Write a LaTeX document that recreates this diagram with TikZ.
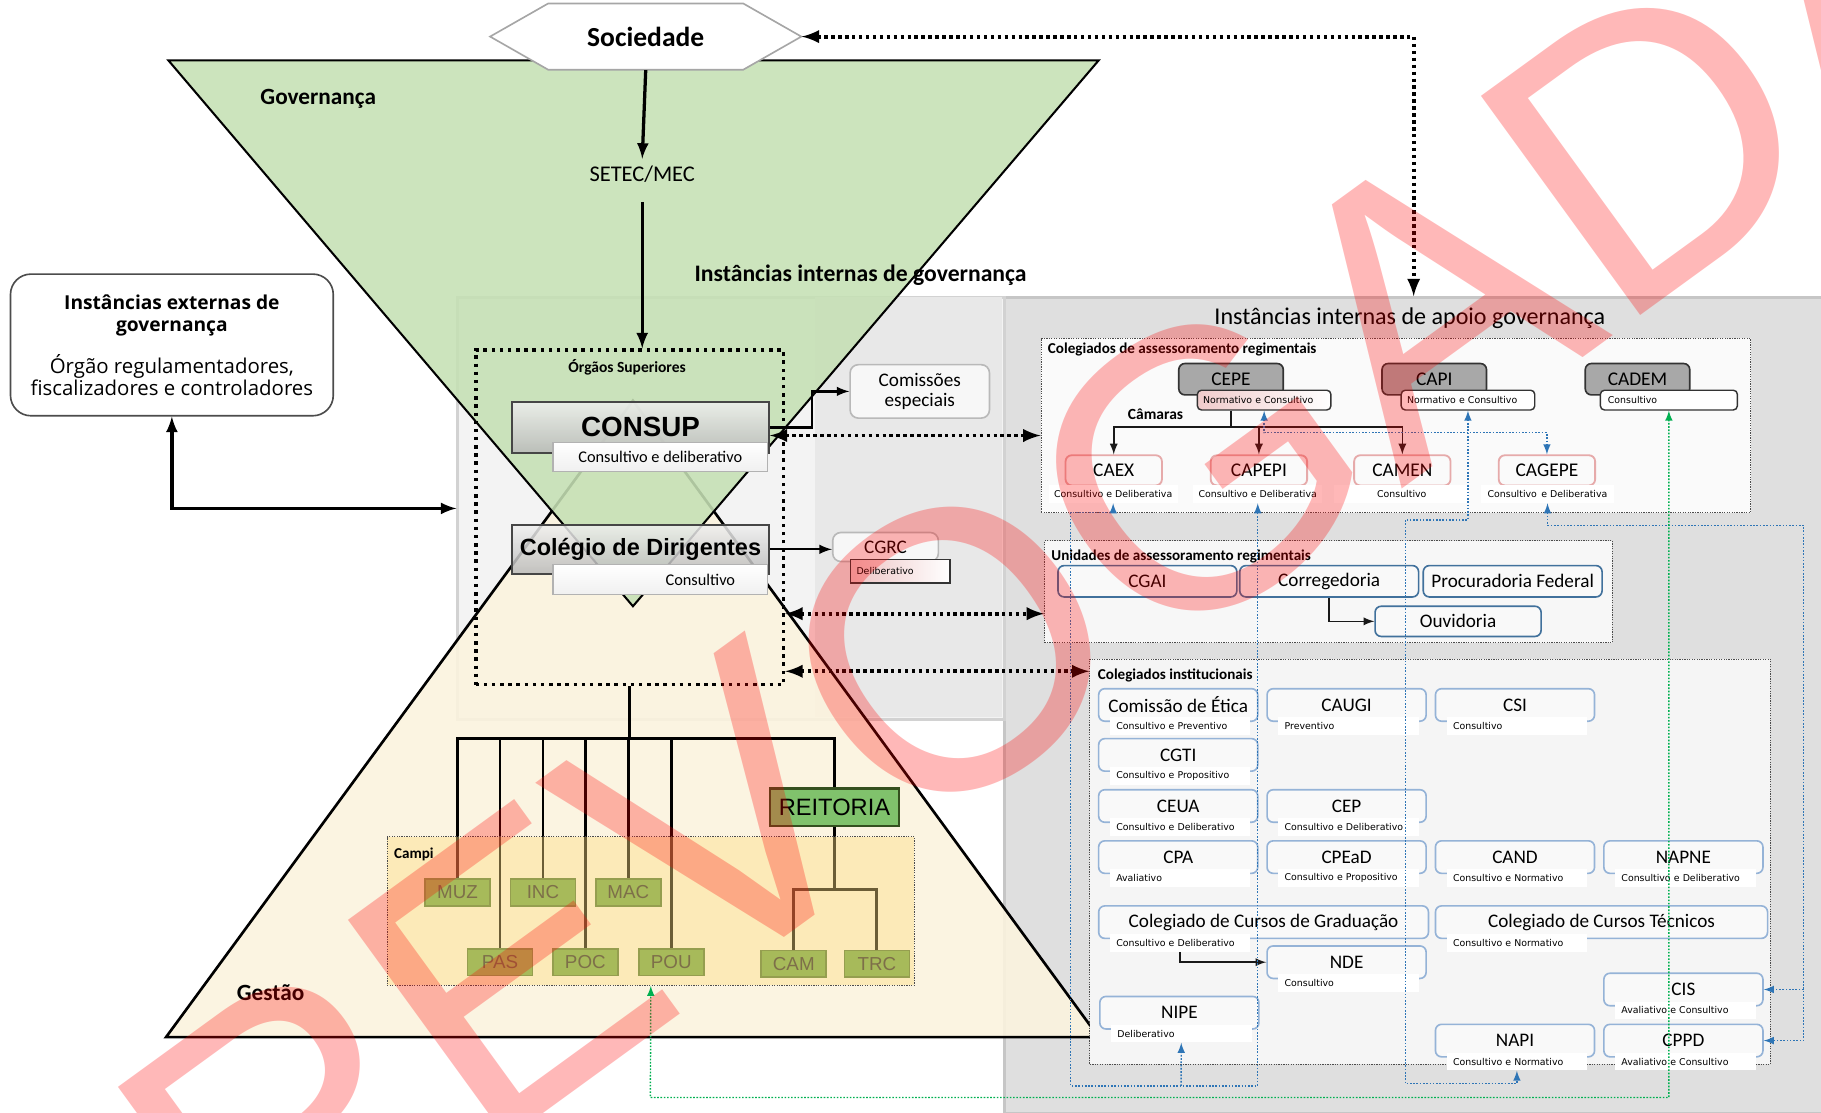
\documentclass[tikz,border=0pt]{standalone}
\usepackage{fontspec}
\setmainfont{Carlito}
\newfontfamily\arialf{Liberation Sans}
\newfontfamily\opensf{Open Sans}
\newfontfamily\tinyf{DejaVu Sans}
\usepackage{tikz}
\usetikzlibrary{arrows,positioning,shapes.geometric}
\newcommand{\fsz}[2]{\fontsize{#1}{#2}\selectfont}
\definecolor{govgreen}{RGB}{197,224,180}
\definecolor{gestbeige}{RGB}{251,243,222}
\definecolor{panlight}{RGB}{243,243,243}
\definecolor{panmid}{RGB}{232,232,232}
\definecolor{panright}{RGB}{223,223,223}
\definecolor{azul}{RGB}{46,117,182}
\definecolor{verde}{RGB}{0,176,80}
\definecolor{campiy}{RGB}{255,222,130}
\definecolor{campg}{RGB}{104,160,62}
\definecolor{reitg}{RGB}{128,194,108}
\definecolor{colborder}{RGB}{149,179,215}
\definecolor{unborder}{RGB}{65,113,156}
\definecolor{rosa}{RGB}{230,170,170}
\tikzstyle{thk}=[line width=1.6pt,>=latex]
\tikzstyle{dots}=[line width=1.9pt,dash pattern=on 1.7pt off 1.7pt,<->,>=latex]
\tikzstyle{bd}=[azul,line width=0.7pt,dash pattern=on 0.8pt off 0.8pt,<->,>=latex]
\tikzstyle{vd}=[verde,line width=0.7pt,dash pattern=on 0.8pt off 0.8pt,<->,>=latex]
\tikzstyle{gline}=[gray!20!black,line width=0.8pt,->,>=latex]
\tikzstyle{tree}=[line width=1.4pt]
\tikzstyle{dbox}=[draw=gray!60!black,line width=0.5pt,dash pattern=on 0.6pt off 0.6pt,inner sep=0,anchor=north west]
\tikzstyle{lbl}=[font=\bfseries\fsz{7.4pt}{9pt},anchor=west,inner sep=0]
\tikzstyle{bevbox}=[draw=gray!55!black,line width=1pt,top color=gray!12,bottom color=gray!55,fill opacity=0.85,text opacity=1,inner sep=0]
\tikzstyle{bevsub}=[draw=gray!60,line width=0.8pt,top color=white,bottom color=gray!12,font=\fsz{8pt}{9pt},inner sep=1pt]
\tikzstyle{grbox}=[rounded corners=4pt,draw=gray!55,fill=gray!6,line width=0.8pt,inner sep=0]
\tikzstyle{dkbox}=[rounded corners=3pt,draw=gray!40!black,line width=0.8pt,fill=gray!68,minimum width=1.8cm,minimum height=0.54cm,font=\fsz{9.5pt}{10pt},inner sep=0]
\tikzstyle{dksub}=[rounded corners=2pt,draw=gray!40!black,line width=0.7pt,fill=white,minimum width=2.3cm,minimum height=0.34cm,text width=2.1cm,align=left,font=\tinyf\fsz{4.6pt}{5pt},inner sep=1pt]
\tikzstyle{pkbox}=[rounded corners=3pt,draw=rosa,line width=0.9pt,fill=gray!4,minimum width=1.66cm,minimum height=0.52cm,font=\fsz{9.5pt}{10pt},inner sep=0]
\tikzstyle{wsub}=[fill=white,minimum width=2.22cm,minimum height=0.3cm,font=\tinyf\fsz{4.6pt}{5pt},inner sep=0]
\tikzstyle{ubox}=[rounded corners=3pt,draw=unborder,line width=0.8pt,fill=gray!5,minimum width=3.08cm,minimum height=0.54cm,font=\fsz{9.4pt}{10pt},inner sep=0]
\tikzstyle{cbox}=[rounded corners=3pt,draw=colborder,line width=0.8pt,fill=gray!5,minimum width=2.74cm,minimum height=0.56cm,font=\fsz{9.4pt}{10pt},inner sep=0]
\tikzstyle{csub}=[fill=white,minimum width=2.42cm,minimum height=0.3cm,text width=2.2cm,align=left,font=\tinyf\fsz{4.6pt}{5pt},inner sep=0,anchor=north west]
\tikzstyle{cpbox}=[fill=campg,draw=campg!70!black,line width=0.8pt,minimum width=1.12cm,minimum height=0.46cm,font=\arialf\fsz{9.2pt}{10pt},text=gray!25!black,inner sep=0]
\newcommand{\colbox}[5][]{\node[cbox,#1] (#2) at (#3) {#4};
\node[csub] (#2s) at ([xshift=0.2cm,yshift=0.09cm]#2.south west) {#5};}

\begin{document}
\begin{tikzpicture}[x=0.02cm,y=-0.02cm]
\useasboundingbox (0,0) rectangle (1568,958);
% paineis
\node[fill=panright,draw=gray!45,line width=1.5pt,inner sep=0,anchor=north west,minimum width=14.08cm,minimum height=14.06cm] (APO) at (864,255) {};
\node[fill=panlight,draw=gray!35,line width=1.5pt,inner sep=0,anchor=north west,minimum width=9.42cm,minimum height=7.26cm] (INT) at (393,255) {};
\fill[panmid] (702,256) rectangle (863,617);
% ampulheta
\fill[gestbeige,fill opacity=0.9] (545,345) -- (946,893) -- (143,893) -- cycle;
\draw[line width=1.3pt] (545,345) -- (946,893) -- (143,893) -- cycle;
\fill[govgreen,fill opacity=0.88] (145,52) -- (946,52) -- (545,522) -- cycle;
\draw[line width=1pt] (145,52) -- (946,52) -- (545,522) -- cycle;
\filldraw[fill=white,draw=gray!70,line width=0.8pt] (422,31.5) -- (472,3) -- (640,3) -- (690,31.5) -- (640,60) -- (472,60) -- cycle;
\node[minimum width=5.36cm,minimum height=1.14cm,inner sep=0,font=\bfseries\fsz{13.5pt}{15pt}] (SOC) at (556,31.5) {Sociedade};
\node[font=\bfseries\fsz{11.4pt}{12pt}] (GOV) at (274,85) {Governança};
\node[font=\bfseries\fsz{11.4pt}{12pt}] (GES) at (233,855) {Gestão};
\node[font=\fsz{11pt}{13pt}] (SET) at (553,150) {SETEC/MEC};
\node[font=\bfseries\fsz{11.6pt}{12pt}] (IIG) at (741,237) {Instâncias internas de governança};

\node[draw=gray!60!black,line width=0.8pt,rounded corners=10pt,fill=white,minimum width=5.56cm,minimum height=2.44cm,align=center,font=\opensf\fsz{9.4pt}{10.8pt}] (EXT) at (148,297) {\textbf{Instâncias externas de}\\\textbf{governança}\\[8pt]{\fsz{10pt}{11pt}Órgão regulamentadores,}\\{\fsz{10pt}{11pt}fiscalizadores e controladores}};

% orgaos superiores
\node[draw,line width=1.8pt,dash pattern=on 1.7pt off 2.3pt,inner sep=0,anchor=north west,minimum width=5.3cm,minimum height=5.76cm] (ORG) at (408,300) {};
\node[font=\bfseries\fsz{7.6pt}{9pt}] (ORGt) at (540,316) {Órgãos Superiores};
\node[bevbox,minimum width=4.42cm,minimum height=0.88cm,font=\arialf\bfseries\fsz{13.6pt}{15pt}] (CON) at (551.5,368) {CONSUP};
\node[bevsub,minimum width=3.7cm,minimum height=0.5cm] (CONs) at (568.5,393.5) {Consultivo e deliberativo};
\node[bevbox,minimum width=4.42cm,minimum height=0.84cm,font=\arialf\bfseries\fsz{11.5pt}{13pt}] (COL) at (551.5,473) {Colégio de Dirigentes};
\node[bevsub,minimum width=3.7cm,minimum height=0.52cm,text width=2.58cm,align=right] (COLs) at (568.5,499) {Consultivo};

\node[grbox,minimum width=2.4cm,minimum height=0.92cm,align=center,font=\fsz{9.4pt}{9.6pt}] (CE) at (792,337) {Comissões\\especiais};
\node[grbox,minimum width=1.82cm,minimum height=0.5cm,font=\fsz{9.4pt}{10pt}] (CG) at (762.5,471) {CGRC};
\node[draw=gray!40!black,line width=0.6pt,left color=rosa!70,right color=white,minimum width=1.72cm,minimum height=0.4cm,text width=1.5cm,align=left,font=\tinyf\fsz{4.6pt}{5pt},inner sep=1pt] (CGs) at (775,492) {Deliberativo};
\draw[thk,->,line width=1.1pt] (CON.east) -- ++(36,0) |- (CE.west);
\draw[thk,->,line width=1.1pt] (COL.east) -- (COL.east -| CG.west);

% apoio
\node[font=\fsz{11.8pt}{13pt}] (APOt) at (1214,274) {Instâncias internas de apoio governança};
\node[dbox,fill=gray!4,minimum width=12.22cm,minimum height=3cm] (CAS) at (896,291) {};
\node[lbl] (CASt) at (902,301) {Colegiados de assessoramento regimentais};
\node[dkbox] (CEPE) at (1060,326.5) {CEPE};
\node[dksub,left color=rosa!60,right color=white] (CEPEs) at (1088.5,344.5) {Normativo e Consultivo};
\node[dkbox] (CAPI) at (1235,326.5) {CAPI};
\node[dksub] (CAPIs) at (1264,344.5) {Normativo e Consultivo};
\node[dkbox] (CADEM) at (1410,326.5) {CADEM};
\node[dksub,minimum width=2.36cm] (CADEMs) at (1437,344.5) {Consultivo};
\node[font=\bfseries\fsz{7.6pt}{9pt}] (CAMt) at (995,357) {Câmaras};
\node[pkbox] (CAEX) at (959,405) {CAEX};
\node[wsub] (CAEXs) at (958.5,425.5) {Consultivo e Deliberativa};
\node[pkbox] (CAPEPI) at (1084,405) {CAPEPI};
\node[wsub] (CAPEPIs) at (1083,425.5) {Consultivo e Deliberativa};
\node[pkbox] (CAMEN) at (1207.5,405) {CAMEN};
\node[wsub,minimum width=2.32cm] (CAMENs) at (1207,425.5) {Consultivo};
\node[pkbox] (CAGEPE) at (1332,405) {CAGEPE};
\node[wsub,minimum width=2.3cm] (CAGEPEs) at (1332.5,425.5) {Consultivo\, e Deliberativa};
\draw[gray!20!black,line width=0.9pt] (CEPE.south |- CEPEs.south) -- ++(0,14) coordinate (cm);
\draw[gline] (cm) -| (CAEX.north);
\draw[gline] (cm) -| (CAPEPI.north);
\draw[gline] (cm) -| (CAMEN.north);

\node[dbox,fill=gray!6,minimum width=9.78cm,minimum height=1.76cm] (UNI) at (899,465) {};
\node[lbl] (UNIt) at (905,479) {Unidades de assessoramento regimentais};
\node[ubox] (CGAI) at (988,500.5) {CGAI};
\node[ubox] (COR) at (1144.5,500.5) {Corregedoria};
\node[ubox] (PRO) at (1302.5,500.5) {Procuradoria Federal};
\node[ubox,minimum width=2.86cm,minimum height=0.52cm] (OUV) at (1255.5,535) {Ouvidoria};
\draw[gline] (COR.south) |- (OUV.west);

\node[dbox,fill=gray!8,minimum width=11.72cm,minimum height=6.98cm] (CIN) at (938,567) {};
\node[lbl] (CINt) at (945,582) {Colegiados institucionais};
\colbox{ETI}{1014.5,607}{Comissão de Ética}{Consultivo e Preventivo}
\colbox{CAUGI}{1159.5,607}{CAUGI}{Preventivo}
\colbox{CSI}{1304.5,607}{CSI}{Consultivo}
\colbox{CGTI}{1014.5,650}{CGTI}{Consultivo e Propositivo}
\colbox{CEUA}{1014.5,694}{CEUA}{Consultivo e Deliberativo}
\colbox{CEP}{1159.5,694}{CEP}{Consultivo e Deliberativo}
\colbox{CPA}{1014.5,738}{CPA}{Avaliativo}
\colbox{CPEaD}{1159.5,738}{CPEaD}{Consultivo e Propositivo}
\colbox{CAND}{1304.5,738}{CAND}{Consultivo e Normativo}
\colbox{NAPNE}{1449.5,738}{NAPNE}{Consultivo e Deliberativo}
\colbox[minimum width=5.68cm]{CCG}{1088,794}{Colegiado de Cursos de Graduação}{Consultivo e Deliberativo}
\colbox[minimum width=5.72cm]{CCT}{1379,794}{Colegiado de Cursos Técnicos}{Consultivo e Normativo}
\colbox{NDE}{1159.5,828.5}{NDE}{Consultivo}
\colbox{CIS}{1449.5,852}{CIS}{Avaliativo e Consultivo}
\colbox{NIPE}{1015.5,872}{NIPE}{Deliberativo}
\colbox{NAPI}{1304.5,896}{NAPI}{Consultivo e Normativo}
\colbox{CPPD}{1449.5,896}{CPPD}{Avaliativo e Consultivo}
\draw[gline] (CCGs.south) |- (NDE.west);

% campi
\draw[tree] (ORG.south) -- ++(0,45) coordinate (tr);
\node[fill=reitg,draw=campg!50!black,line width=1.2pt,minimum width=2.22cm,minimum height=0.64cm,font=\arialf\fsz{11.6pt}{12pt},inner sep=0] (REI) at (718.5,695) {REITORIA};
\node[cpbox] (MUZ) at (394,768.5) {MUZ};
\node[cpbox] (INC) at (467.5,768.5) {INC};
\node[cpbox] (MAC) at (541,768.5) {MAC};
\node[cpbox] (PAS) at (430.5,828.5) {PAS};
\node[cpbox] (POC) at (504,828.5) {POC};
\node[cpbox] (POU) at (578,828.5) {POU};
\node[cpbox] (CAM) at (683.5,830) {CAM};
\node[cpbox] (TRC) at (755,830) {TRC};
\draw[tree] (tr) -| (MUZ.north);
\draw[tree] (tr) -| (PAS.north);
\draw[tree] (tr) -| (INC.north);
\draw[tree] (tr) -| (POC.north);
\draw[tree] (tr) -| (MAC.north);
\draw[tree] (tr) -| (POU.north);
\draw[tree] (tr) -| (REI.north);
\draw[tree] (REI.south) -- ++(0,54) coordinate (rt);
\draw[tree] (rt) -| (CAM.north);
\draw[tree] (rt) -| (TRC.north);
\node[dbox,fill=campiy,fill opacity=0.42,minimum width=9.08cm,minimum height=2.56cm] (CMP) at (333,720) {};
\node[lbl] (CMPt) at (339,736) {Campi};

% setas
\draw[thk,->] (SOC.south) -- (SET.north);
\draw[thk,->,shorten <=6pt] (SET.south) -- (SET.south |- ORG.north);
\draw[thk,<->] (EXT.south) |- (INT.west);
\draw[dots] (SOC.east) -| (APO.north);
\coordinate (d2) at ([yshift=-0.14cm]CON.east);
\draw[dots] (d2) -- (d2 -| CAS.west);
\coordinate (d3) at ([yshift=-0.38cm]UNI.west);
\draw[dots] (d3 -| ORG.east) -- (d3);
\coordinate (d4) at ([yshift=-0.22cm]CIN.north west);
\draw[dots] (d4 -| ORG.east) -- (d4);
\draw[bd] (CEPEs.south) -- ++(0,19) -| (CAGEPE.north);
\draw[bd] (CAPIs.south) -- ++(0,94) -| (1210,933) -| (NAPIs.south);
\draw[bd] (CAEXs.south) -- ++(0,8) -| (922,935) -| (CAPEPIs.south);
\coordinate (nb) at (1017,935);
\draw[bd,->] (nb) -- (NIPEs.south);
\draw[bd] (CAGEPEs.south) -- ++(0,19) -| (1553,896) -- (CPPD.east);
\coordinate (b4) at (1553,852);
\draw[bd,->] (b4) -- (CIS.east);
\coordinate (g1) at (560,945);
\draw[vd] (CADEMs.south) |- (g1) -- (CMP.south);

\node[rotate=36,text=red,text opacity=0.28,font=\arialf\fsz{193pt}{193pt},inner sep=0] (WM) at (925,482) {REVOGADA};
\end{tikzpicture}
\end{document}
